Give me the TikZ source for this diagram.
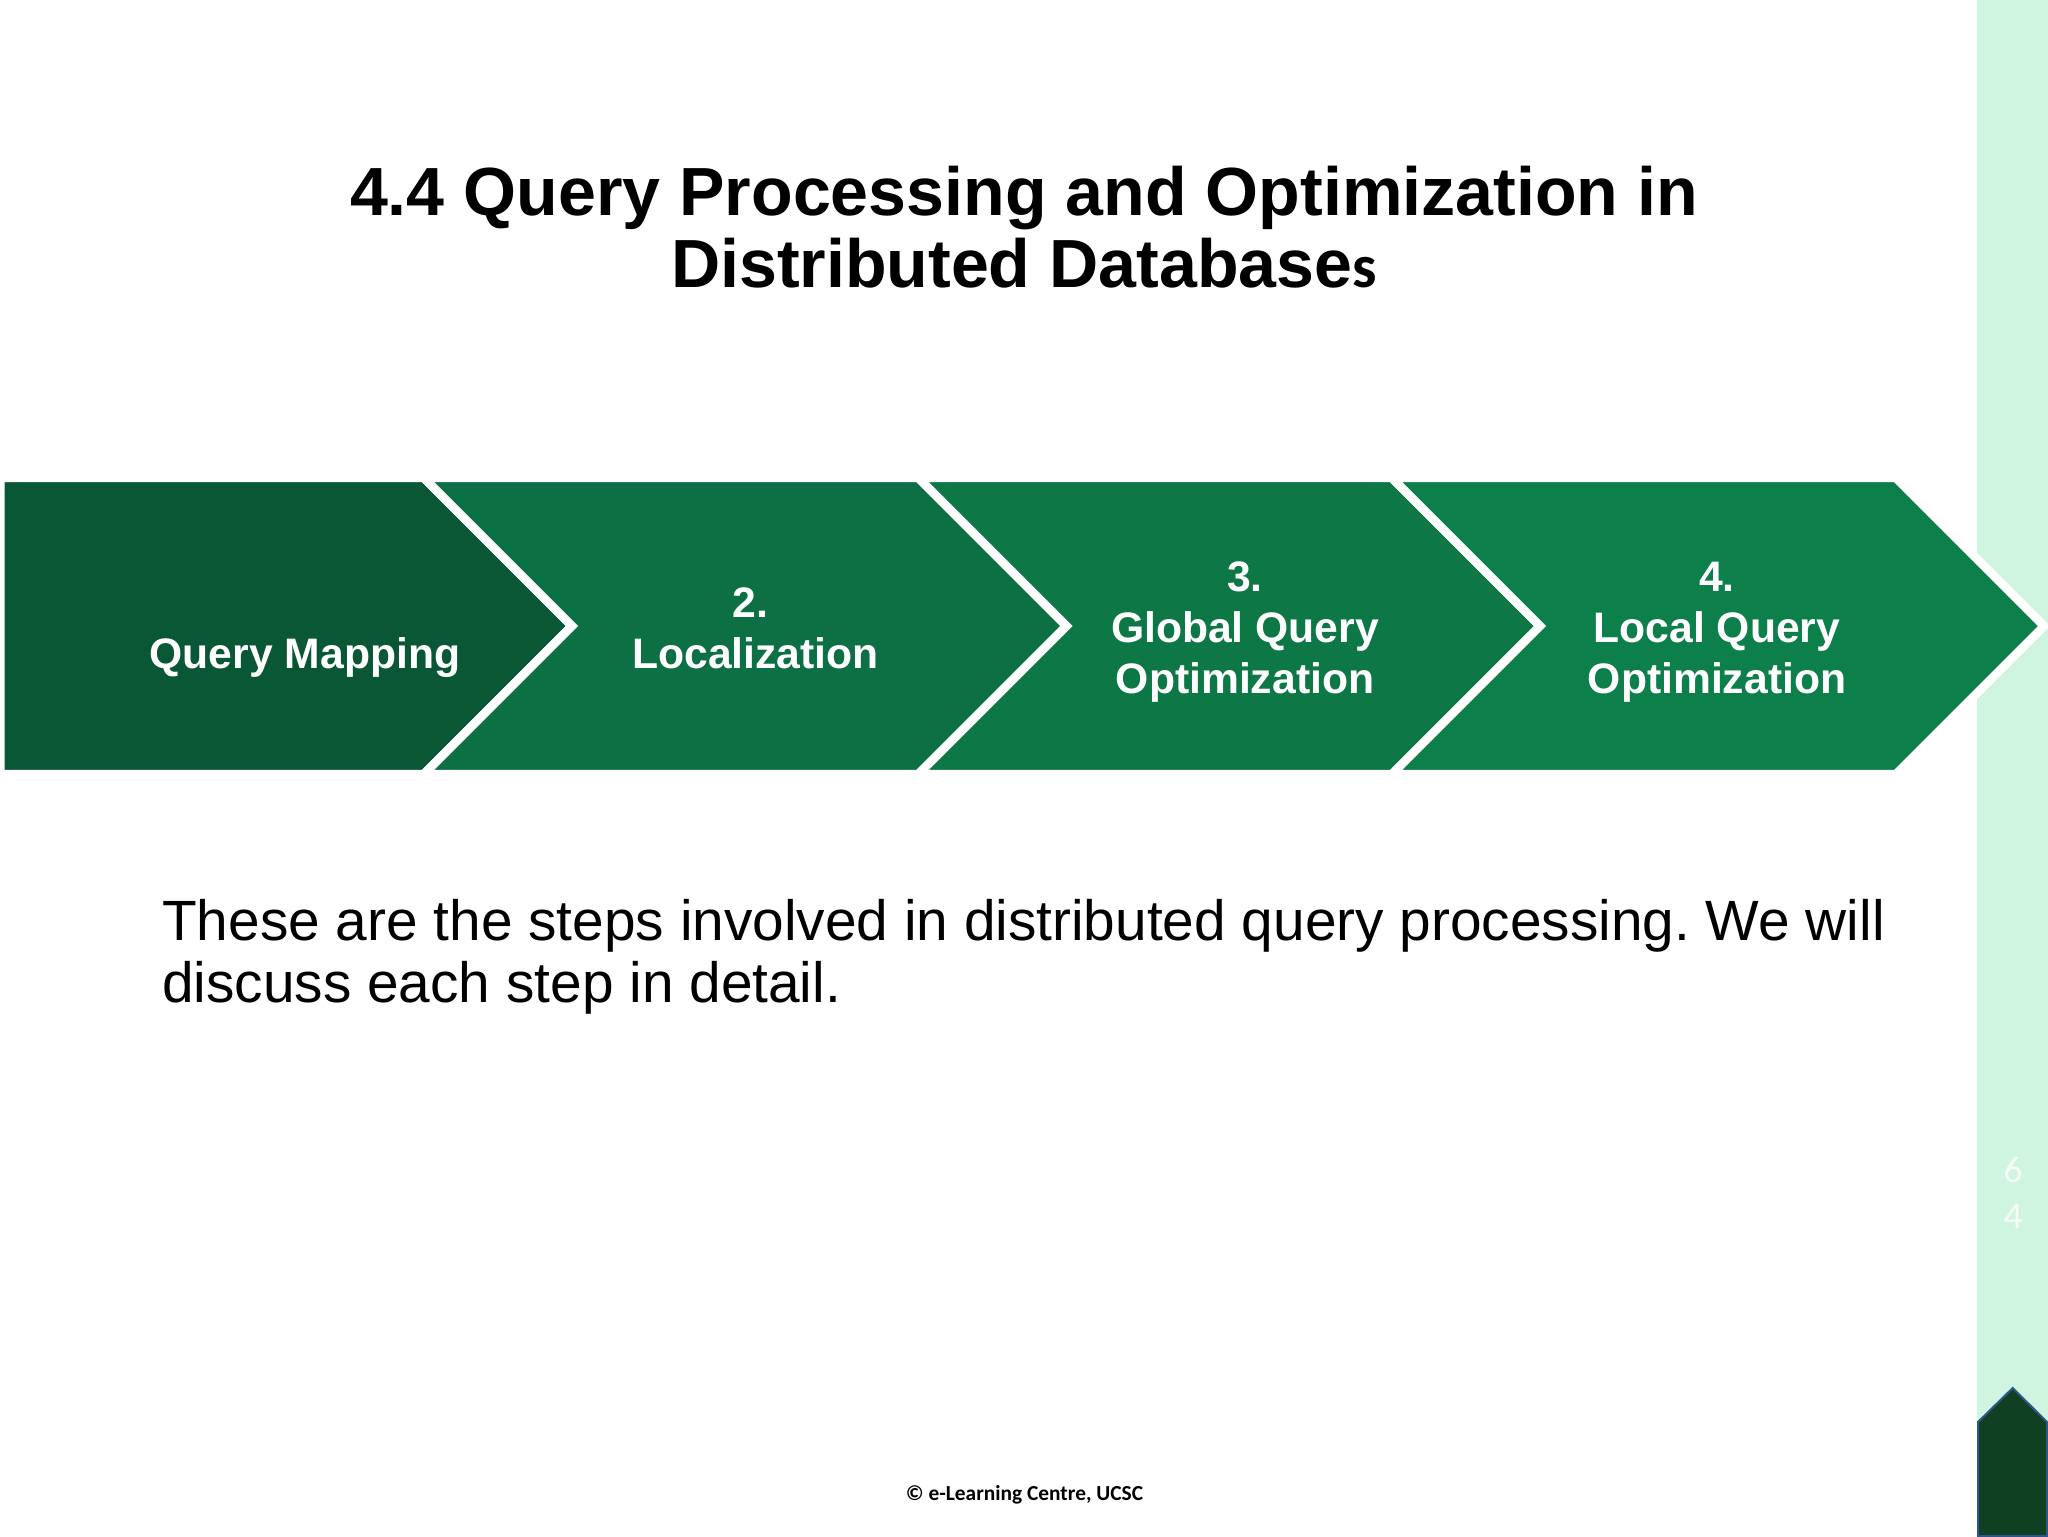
\documentclass[tikz,border=0pt]{standalone}
\usepackage{fontspec}
\setmainfont{Liberation Sans}
\newfontfamily\footfont{Carlito}
\frenchspacing
\definecolor{stepone}{RGB}{10,87,53}
\definecolor{steptwo}{RGB}{13,112,68}
\definecolor{stepthree}{RGB}{13,120,70}
\definecolor{stepfour}{RGB}{13,127,74}
\definecolor{sidebar}{RGB}{207,245,224}
\definecolor{housefill}{RGB}{15,64,34}
\definecolor{houseline}{RGB}{47,85,140}
\tikzset{
        % Chevron shapes
        chevron/.style={draw=white, line width=6.4pt, miter limit=10},
        % Text inside the chevrons
        step_label/.style={align=center, inner sep=0pt, white, font=\fontsize{32}{38.3}\selectfont\bfseries},
        % Slide heading
        slide_title/.style={align=center, inner sep=0pt, black, font=\fontsize{51.1}{54}\selectfont\bfseries},
        % Body text
        slide_text/.style={align=left, inner sep=0pt, black, font=\fontsize{42.6}{46.5}\selectfont},
        % Page number digits
        page_digit/.style={inner sep=0pt, white!85!sidebar, font=\footfont\fontsize{28}{28}\selectfont}
}

\begin{document}
\begin{tikzpicture}[x=0.75pt, y=-0.75pt]
            \useasboundingbox (0,0) rectangle (2048,1536);
            % Sidebar
            \fill[sidebar] (1977,0) rectangle (2048,1536);
            \draw[fill=housefill, draw=houseline, line width=1.5pt] (1978,1536) -- (1978,1422) -- (2012.7,1388) -- (2047,1422) -- (2047,1536) -- cycle;
            \node[page_digit] (digit_six) at (2013,1170) {6};
            \node[page_digit] (digit_four) at (2013,1216) {4};

            % Chevrons, left to right
            \draw[chevron, fill=stepone] (0.25,477.75) -- (423.75,477.75) -- (572,626) -- (423.75,774.25) -- (0.25,774.25) -- cycle;
            \draw[chevron, fill=steptwo] (423.75,477.75) -- (918.25,477.75) -- (1066.5,626) -- (918.25,774.25) -- (423.75,774.25) -- (572,626) -- cycle;
            \draw[chevron, fill=stepthree] (918.25,477.75) -- (1391.75,477.75) -- (1540,626) -- (1391.75,774.25) -- (918.25,774.25) -- (1066.5,626) -- cycle;
            \draw[chevron, fill=stepfour] (1391.75,477.75) -- (1895.75,477.75) -- (2044,626) -- (1895.75,774.25) -- (1391.75,774.25) -- (1540,626) -- cycle;

            \node[step_label] (step_mapping) at (305,629.5) {\strut\\Query Mapping};
            \node[step_label] (step_local) at (755.5,628.3) {2.\hspace*{0.25em}\\Localization};
            \node[step_label] (step_global) at (1245,632) {3.\\Global Query\\Optimization};
            \node[step_label] (step_site) at (1717,632) {4.\\Local Query\\Optimization};

            \node[slide_title] (heading) at (1024,227) {4.4 Query Processing and Optimization in\\Distributed Database{\footfont\fontsize{46}{54}\selectfont s}};
            \node[slide_text, anchor=north west] (body) at (162,899) {These are the steps involved in distributed query processing. We will\\discuss each step in detail.};
            \node[inner sep=0pt, font=\footfont\bfseries\fontsize{16.05}{18}\selectfont] (footer) at (1024.5,1495) {© e-Learning Centre, UCSC};
\end{tikzpicture}
\end{document}
